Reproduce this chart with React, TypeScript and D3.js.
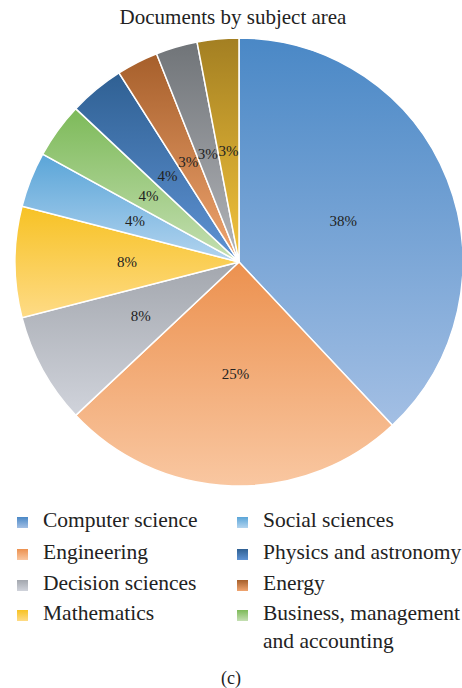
import React from 'react';
import * as d3 from 'd3';

// slice order, clockwise from 12 o'clock
const subjects = [
  'Computer science',
  'Engineering',
  'Decision sciences',
  'Mathematics',
  'Social sciences',
  'Business, management and accounting',
  'Physics and astronomy',
  'Energy',
  'other1',
  'other2',
];
const shares = [38, 25, 8, 8, 4, 4, 4, 3, 3, 3];
const topColors = ['#4a88c6', '#ec914f', '#a3a7ae', '#f7c224', '#5aa5d8', '#7dba59', '#2f6093', '#a65f2b', '#707478', '#a37f22'];
const bottomColors = ['#a3bfe4', '#f9c7a1', '#d0d3db', '#fedb86', '#b3d4ef', '#c5dfb3', '#5f93d4', '#f0a570', '#b3b5ba', '#f4c43c'];

// legend as shown (two columns)
const legendLeft = ['Computer science', 'Engineering', 'Decision sciences', 'Mathematics'];
const legendRight = [['Social sciences'], ['Physics and astronomy'], ['Energy'], ['Business, management', 'and accounting']];

const W = 462;
const H = 688;
const cx = 239;
const cy = 262;
const R = 224;
const serif = "'Liberation Serif', 'DejaVu Serif', serif";

export default function App() {
  const pie = d3
    .pie<number>()
    .sort(null)
    .value((d) => d)(shares);
  const arc = d3.arc<d3.PieArcDatum<number>>().innerRadius(0).outerRadius(R);

  const idx = (name: string) => subjects.indexOf(name);
  const rowY = [527, 559, 590, 620];

  return (
    <svg width={W} height={H} style={{ position: 'absolute', left: 0, top: 0, fontFamily: serif }}>
      <defs>
        {subjects.map((s, i) => (
          <linearGradient key={s} id={`g${i}`} x1='0' y1='0' x2='0' y2='1'>
            <stop offset='0%' stopColor={topColors[i]} />
            <stop offset='100%' stopColor={bottomColors[i]} />
          </linearGradient>
        ))}
      </defs>
      <rect width={W} height={H} fill='#fff' />
      <text x={233} y={24} textAnchor='middle' fontSize={21} fill='#222'>
        Documents by subject area
      </text>
      <g transform={`translate(${cx},${cy})`}>
        {pie.map((p, i) => (
          <path key={i} d={arc(p) || ''} fill={`url(#g${i})`} stroke='#fff' strokeWidth={1.5} />
        ))}
        {pie.map((p, i) => {
          const [x, y] = arc.centroid(p);
          return (
            <text key={i} x={x} y={y} textAnchor='middle' dominantBaseline='central' fontSize={15} fill='#222'>
              {shares[i]}%
            </text>
          );
        })}
      </g>
      {legendLeft.map((name, r) => (
        <g key={name}>
          <rect x={17} y={rowY[r] - 10} width={11} height={11} fill={`url(#g${idx(name)})`} />
          <text x={43} y={rowY[r]} fontSize={21.5} fill='#222'>
            {name}
          </text>
        </g>
      ))}
      {legendRight.map((lines, r) => (
        <g key={lines[0]}>
          <rect x={237} y={rowY[r] - 10} width={11} height={11} fill={`url(#g${idx(lines.join(' '))})`} />
          {lines.map((ln, k) => (
            <text key={ln} x={263} y={rowY[r] + k * 28} fontSize={21.5} fill='#222'>
              {ln}
            </text>
          ))}
        </g>
      ))}
      <text x={231} y={684} textAnchor='middle' fontSize={18} fill='#222'>
        (c)
      </text>
    </svg>
  );
}
